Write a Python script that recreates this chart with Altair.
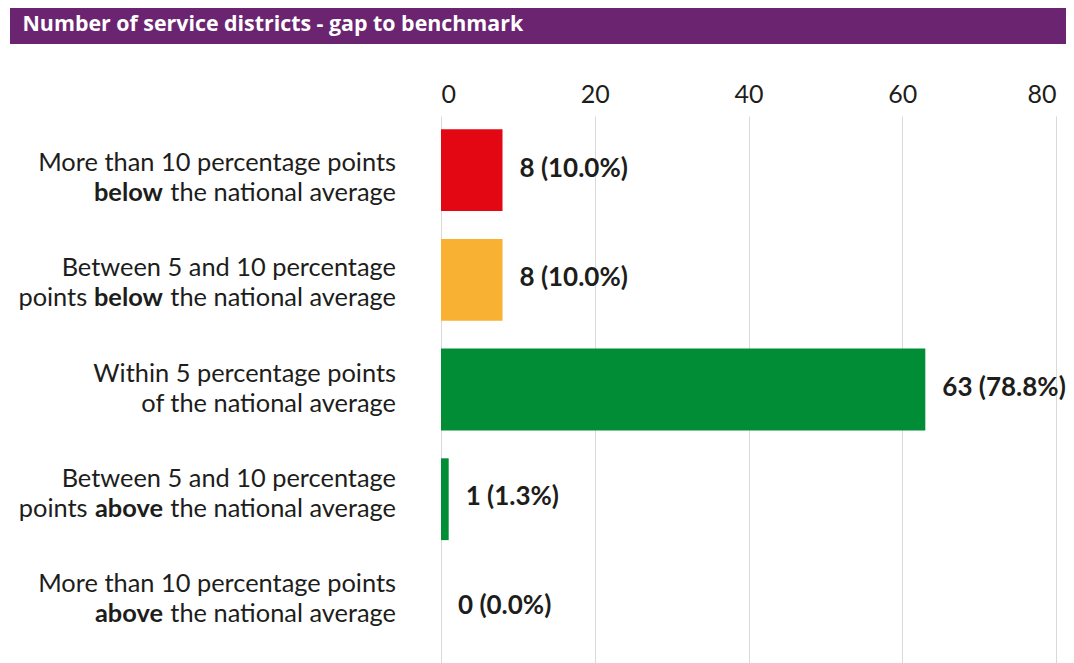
import glob
import os
import struct

import altair as alt
import pandas as pd

# ---------------- data ----------------
title_text = "Number of service districts - gap to benchmark"
line1 = [
    "More than 10 percentage points",
    "Between 5 and 10 percentage",
    "Within 5 percentage points",
    "Between 5 and 10 percentage",
    "More than 10 percentage points",
]
line2 = [
    "**below** the national average",
    "points **below** the national average",
    "of the national average",
    "points **above** the national average",
    "**above** the national average",
]
counts = [8, 8, 63, 1, 0]
percents = [10.0, 10.0, 78.8, 1.3, 0.0]
bar_colors = ["#e30613", "#f8b133", "#008d36", "#008d36", "#008d36"]
tick_values = [0, 20, 40, 60, 80]

FONT = "Lato"
LABEL_SIZE = 25.4
VALUE_SIZE = 26
AXIS_SIZE = 25
TEXT_COLOR = "#1d1d1b"

W, H = 615, 547
PAD = {"left": 433, "top": 108, "right": 10, "bottom": 0}


# ---------------- font metrics (for mixed bold/regular label lines) ----------------
def find_font(name):
    bases = ["/usr/share/fonts", "/usr/local/share/fonts",
             os.path.expanduser("~/.fonts"), os.path.expanduser("~/.local/share/fonts")]
    for base in bases:
        hits = glob.glob(os.path.join(base, "**", name), recursive=True)
        if hits:
            return hits[0]
    return None


def load_width_fn(path):
    with open(path, "rb") as f:
        data = f.read()
    num = struct.unpack(">H", data[4:6])[0]
    tables = {}
    for i in range(num):
        tag, _, off, _ln = struct.unpack(">4sIII", data[12 + 16 * i:28 + 16 * i])
        tables[tag] = off
    head = tables[b"head"]
    upem = struct.unpack(">H", data[head + 18:head + 20])[0]
    hhea = tables[b"hhea"]
    nh = struct.unpack(">H", data[hhea + 34:hhea + 36])[0]
    hm = tables[b"hmtx"]
    adv = [struct.unpack(">H", data[hm + 4 * i:hm + 4 * i + 2])[0] for i in range(nh)]
    cm = tables[b"cmap"]
    n = struct.unpack(">H", data[cm + 2:cm + 4])[0]
    sub = None
    for i in range(n):
        pid, eid, off = struct.unpack(">HHI", data[cm + 4 + 8 * i:cm + 12 + 8 * i])
        fmt = struct.unpack(">H", data[cm + off:cm + off + 2])[0]
        if fmt == 4 and (pid == 0 or (pid == 3 and eid == 1)):
            sub = cm + off
            break
    segx2 = struct.unpack(">H", data[sub + 6:sub + 8])[0]
    seg = segx2 // 2
    ends = struct.unpack(">%dH" % seg, data[sub + 14:sub + 14 + segx2])
    so = sub + 16 + segx2
    starts = struct.unpack(">%dH" % seg, data[so:so + segx2])
    do = so + segx2
    deltas = struct.unpack(">%dh" % seg, data[do:do + segx2])
    ro = do + segx2
    ros = struct.unpack(">%dH" % seg, data[ro:ro + segx2])

    def gid(c):
        for i in range(seg):
            if ends[i] >= c:
                if starts[i] > c:
                    return 0
                if ros[i] == 0:
                    return (c + deltas[i]) & 0xFFFF
                a = ro + 2 * i + ros[i] + 2 * (c - starts[i])
                g = struct.unpack(">H", data[a:a + 2])[0]
                return (g + deltas[i]) & 0xFFFF if g else 0
        return 0

    def width(text, size):
        tot = 0
        for ch in text:
            g = gid(ord(ch))
            tot += adv[g] if g < nh else adv[-1]
        return tot * size / upem

    return width


def make_width(fname):
    try:
        p = find_font(fname)
        if p:
            return load_width_fn(p)
    except Exception:
        pass
    return None


def approx(em):
    return lambda text, size: len(text) * em * size


w_reg = make_width("Lato-Regular.ttf") or approx(0.50)
w_bold = make_width("Lato-Bold.ttf") or approx(0.53)

# title font: a wider bold face if available
w_title = make_width("OpenSans-Bold.ttf")
TITLE_FONT = "Open Sans"
if w_title is None:
    w_title = w_bold
    TITLE_FONT = FONT
TITLE_SIZE = min(25.0, max(19.0, 21 * 501 / w_title(title_text, 21)))

# ---------------- tables ----------------
cats = [a + " " + b.replace("**", "") for a, b in zip(line1, line2)]
bars = pd.DataFrame({
    "cat": cats,
    "count": counts,
    "label": [f"{c} ({p:.1f}%)" for c, p in zip(counts, percents)],
})

space_w = w_reg(" ", LABEL_SIZE)
segments = []
for ci, (a, b) in enumerate(zip(line1, line2)):
    for li, txt in enumerate([a, b]):
        parts = [(p.strip(), k % 2 == 1) for k, p in enumerate(txt.split("**")) if p.strip()]
        off = 0.0
        for text, bold in reversed(parts):
            segments.append({"cat": cats[ci], "line": li, "text": text, "bold": bold, "off": off})
            fn = w_bold if bold else w_reg
            off += fn(text, LABEL_SIZE) + space_w

# ---------------- chart ----------------
y_band = alt.Y("cat:N", sort=cats, axis=None,
               scale=alt.Scale(domain=cats, paddingInner=0.2545, paddingOuter=0.12))

x_scale = alt.Scale(domain=[0, 80], nice=False, zero=True)

bar_layer = alt.Chart(bars).mark_bar().encode(
    x=alt.X("count:Q", scale=x_scale,
            axis=alt.Axis(orient="top", values=tick_values, title=None, grid=True,
                          gridColor="#d9d9d9", gridWidth=1, domain=False, ticks=False,
                          tickSize=0, labelFont=FONT, labelFontSize=AXIS_SIZE,
                          labelColor=TEXT_COLOR, labelPadding=9, format="d")),
    y=y_band,
    color=alt.Color("cat:N", scale=alt.Scale(domain=cats, range=bar_colors), legend=None),
)

value_layer = alt.Chart(bars).mark_text(
    align="left", baseline="middle", dx=17, dy=-2, font=FONT, fontSize=VALUE_SIZE,
    fontWeight="bold", color=TEXT_COLOR,
).encode(x=alt.X("count:Q", scale=x_scale), y=y_band, text="label:N")

y_point = alt.Y("cat:N", sort=cats, axis=None,
                scale=alt.Scale(type="point", domain=cats, padding=0.6))

cap_half = 0.3583 * LABEL_SIZE
line_dy = {0: -15 + cap_half - 2, 1: 15 + cap_half - 2}

label_layers = []
for s in segments:
    label_layers.append(
        alt.Chart(pd.DataFrame([s])).mark_text(
            align="right", baseline="alphabetic", font=FONT, fontSize=LABEL_SIZE,
            fontWeight="bold" if s["bold"] else "normal", color=TEXT_COLOR,
            dx=-s["off"], dy=line_dy[s["line"]],
        ).encode(x=alt.value(-45), y=y_point, text="text:N")
    )

banner_df = pd.DataFrame({"title": [title_text]})
banner = alt.Chart(banner_df).mark_rect(color="#6b2570").encode(
    x=alt.value(-431), x2=alt.value(W + PAD["right"]), y=alt.value(-PAD["top"]), y2=alt.value(-72)
)
banner_text = alt.Chart(banner_df).mark_text(
    align="left", baseline="middle", font=TITLE_FONT, fontSize=TITLE_SIZE, fontWeight="bold",
    color="white",
).encode(x=alt.value(-418.5), y=alt.value(-91), text="title:N")

chart = alt.layer(bar_layer, value_layer, *label_layers, banner, banner_text).resolve_scale(
    y="independent"
).properties(
    width=W, height=H, autosize=alt.AutoSizeParams(type="none"), padding=PAD,
    background="white",
).configure_view(strokeWidth=0)

chart.save("out.html", embed_options={"renderer": "svg", "actions": False})
